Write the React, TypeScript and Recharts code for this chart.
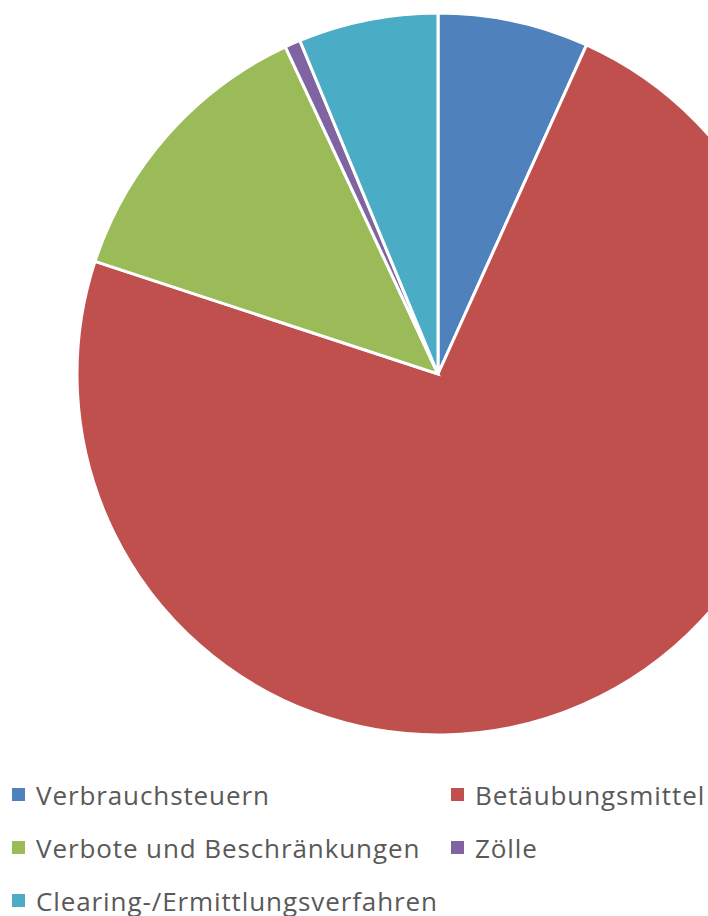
import React from 'react';
import { PieChart, Pie, Cell, Legend } from 'recharts';

const categories = [
    'Verbrauchsteuern',
    'Betäubungsmittel',
    'Verbote und Beschränkungen',
    'Zölle',
    'Clearing-/Ermittlungsverfahren',
];
const shares = [6.75, 73.3, 13.0, 0.7, 6.25];
const colors = ['#4F81BD', '#C0504D', '#9BBB59', '#8064A2', '#4BACC6'];

const data = categories.map((name, i) => ({ name, value: shares[i] }));

const renderLegend = (props: any) => {
    const items = [...(props.payload || [])].sort(
        (a: any, b: any) => categories.indexOf(a.value) - categories.indexOf(b.value)
    );
    return (
        <div style={{ display: 'grid', gridTemplateColumns: '439px 400px' }}>
            {items.map((entry: any) => (
                <div
                    key={entry.value}
                    style={{ display: 'flex', alignItems: 'center', height: 53, whiteSpace: 'nowrap' }}
                >
                    <span
                        style={{
                            width: 13,
                            height: 13,
                            flex: '0 0 13px',
                            background: entry.color,
                            display: 'inline-block',
                            marginRight: 11,
                        }}
                    />
                    <span
                        style={{
                            fontFamily: '"Open Sans", sans-serif',
                            fontSize: 26,
                            letterSpacing: 0.9,
                            color: '#595959',
                        }}
                    >
                        {entry.value}
                    </span>
                </div>
            ))}
        </div>
    );
};

const App: React.FC = () => {
    return (
        <div style={{ position: 'absolute', left: 0, top: 0, width: 708, height: 916, overflow: 'hidden', background: '#fff' }}>
            <PieChart width={708} height={916} margin={{ top: 0, right: 0, bottom: 0, left: 0 }}>
                <Pie
                    data={data}
                    dataKey="value"
                    nameKey="name"
                    cx={438}
                    cy={374}
                    outerRadius={361}
                    startAngle={90}
                    endAngle={-270}
                    stroke="#fff"
                    strokeWidth={3}
                    isAnimationActive={false}
                >
                    {data.map((d, i) => (
                        <Cell key={d.name} fill={colors[i]} />
                    ))}
                </Pie>
                <Legend
                    content={renderLegend}
                    wrapperStyle={{ position: 'absolute', top: 768, left: 12, width: 840 }}
                />
            </PieChart>
        </div>
    );
};

export default App;
